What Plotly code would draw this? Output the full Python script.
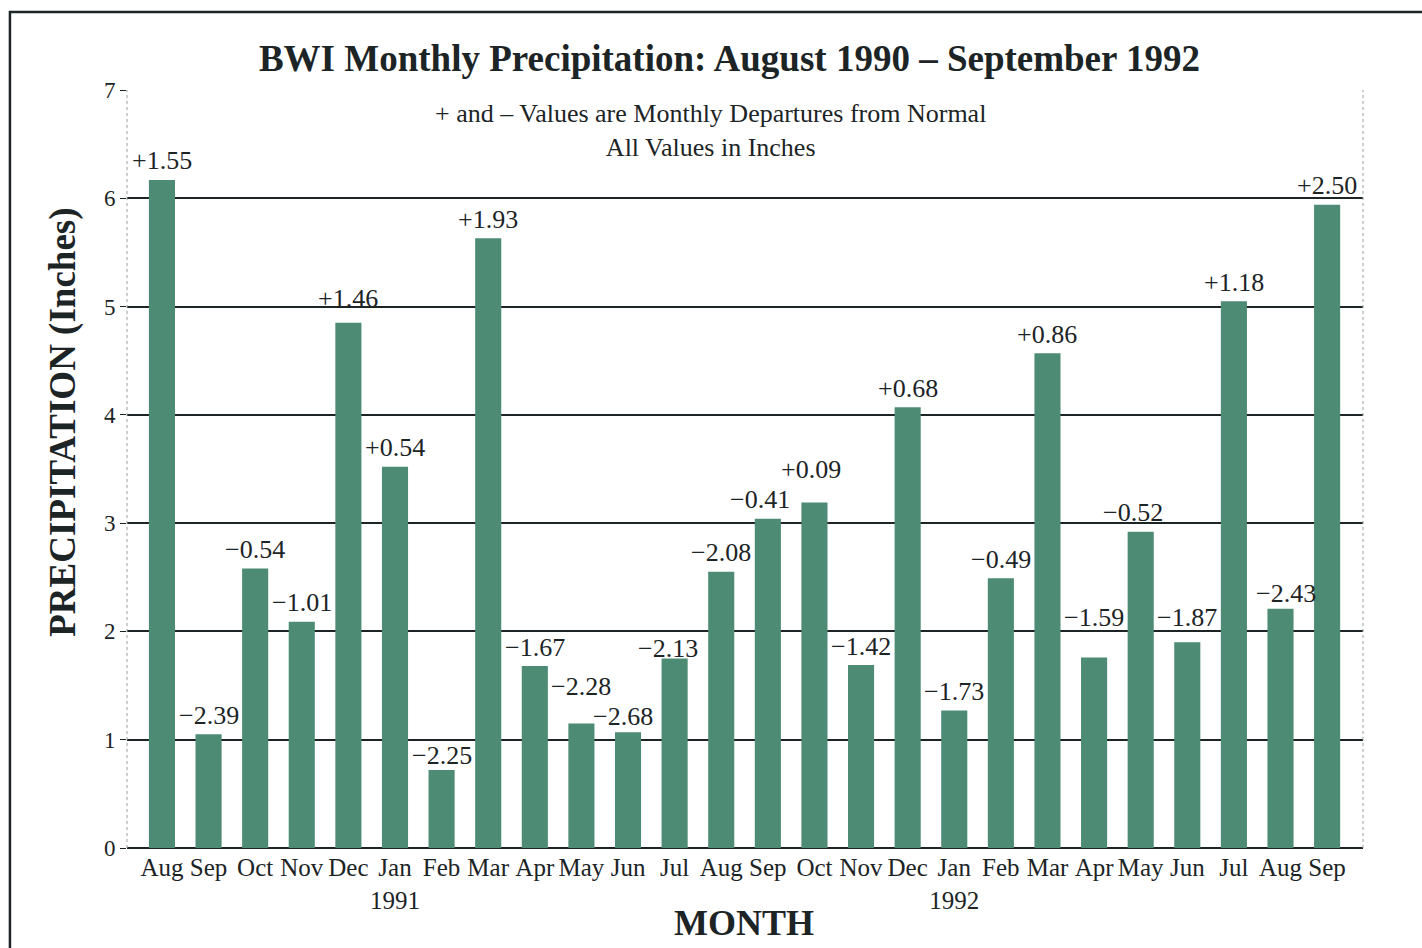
import plotly.graph_objects as go

months = ["Aug", "Sep", "Oct", "Nov", "Dec", "Jan", "Feb", "Mar", "Apr", "May", "Jun", "Jul", "Aug",
          "Sep", "Oct", "Nov", "Dec", "Jan", "Feb", "Mar", "Apr", "May", "Jun", "Jul", "Aug", "Sep"]
years = ["", "", "", "", "", "1991", "", "", "", "", "", "", "",
         "", "", "", "", "1992", "", "", "", "", "", "", "", ""]
precip = [6.17, 1.05, 2.58, 2.09, 4.85, 3.52, 0.72, 5.63, 1.68, 1.15, 1.07, 1.75, 2.55,
          3.04, 3.19, 1.69, 4.07, 1.27, 2.49, 4.57, 1.76, 2.92, 1.90, 5.05, 2.21, 5.94]
departures = ["+1.55", "\u22122.39", "\u22120.54", "\u22121.01", "+1.46", "+0.54", "\u22122.25", "+1.93",
              "\u22121.67", "\u22122.28", "\u22122.68", "\u22122.13", "\u22122.08", "\u22120.41", "+0.09",
              "\u22121.42", "+0.68", "\u22121.73", "\u22120.49", "+0.86", "\u22121.59", "\u22120.52",
              "\u22121.87", "+1.18", "\u22122.43", "+2.50"]

xpos = list(range(len(months)))
ticktext = [m if not y else f"{m}<br>{y}" for m, y in zip(months, years)]

FONT = "Liberation Serif"
BAR = "#4d8b74"
INK = "#1c2426"

# label placement tweaks (pixel nudges, as in the original typesetting)
LABEL_LIFT = 19
label_nudge = {4: (0, 5), 6: (0, -4), 9: (0, 18), 10: (-5, -3), 11: (-7, -9), 13: (-8, 0),
               14: (-3, 14), 20: (0, 21), 21: (-8, 0), 22: (0, 6), 24: (5, -4)}

fig = go.Figure()
fig.add_trace(go.Bar(
    x=xpos, y=precip, width=0.56,
    marker=dict(color=BAR, line=dict(width=0)),
    hoverinfo="x+y",
))

for xi, yi, lab in zip(xpos, precip, departures):
    dx, dy = label_nudge.get(xi, (0, 0))
    fig.add_annotation(x=xi, y=yi, text=lab, showarrow=False, xanchor="center", yanchor="middle",
                       xshift=dx, yshift=LABEL_LIFT + dy,
                       font=dict(family=FONT, size=26, color=INK))

fig.update_layout(
    width=1422, height=948,
    paper_bgcolor="white", plot_bgcolor="white",
    margin=dict(l=127, r=59, t=90, b=100, autoexpand=False),
    font=dict(family=FONT, color=INK),
    showlegend=False,
    title=dict(text="<b>BWI Monthly Precipitation: August 1990 \u2013 September 1992</b>",
               x=0.513, xanchor="center", y=0.939, yanchor="middle",
               font=dict(family=FONT, size=37, color=INK)),
    xaxis=dict(
        tickmode="array", tickvals=xpos, ticktext=ticktext, tickangle=0,
        range=[-0.75, 25.77], showgrid=False, zeroline=False,
        showline=False, ticks="", ticklabelstandoff=2,
        tickfont=dict(family=FONT, size=25, color=INK),
        automargin=False,
    ),
    yaxis=dict(
        range=[0, 7], tickvals=[0, 1, 2, 3, 4, 5, 6, 7],
        showgrid=True, gridcolor=INK, gridwidth=1.5,
        zeroline=True, zerolinecolor=INK, zerolinewidth=1.5,
        ticks="outside", ticklen=6, tickcolor=INK,
        tickfont=dict(family=FONT, size=23, color=INK),
        automargin=False,
    ),
)

# axis titles placed like the original
fig.add_annotation(
    xref="paper", yref="paper", x=-0.052, y=0.562, xanchor="center", yanchor="middle",
    text="<b>PRECIPITATION (Inches)</b>", textangle=-90, showarrow=False,
    font=dict(family=FONT, size=37, color=INK),
)
fig.add_annotation(
    xref="paper", yref="paper", x=0.499, y=-0.099, xanchor="center", yanchor="middle",
    text="<b>MONTH</b>", showarrow=False,
    font=dict(family=FONT, size=36, color=INK),
)

# dotted side boundaries of the plot area
fig.add_shape(type="line", xref="paper", yref="paper", x0=0, x1=0, y0=0, y1=1,
              line=dict(color="#9aa0a0", width=1, dash="dot"))
fig.add_shape(type="line", xref="paper", yref="paper", x0=1, x1=1, y0=0, y1=1,
              line=dict(color="#9aa0a0", width=1, dash="dot"))

# outer frame
fig.add_shape(type="rect", xref="paper", yref="paper", x0=-0.0947, x1=1.2, y0=-0.3, y1=1.103,
              line=dict(color=INK, width=2.5), layer="below")

fig.add_annotation(
    xref="paper", yref="paper", x=0.472, y=0.946, xanchor="center", yanchor="middle",
    text="+ and \u2013 Values are Monthly Departures from Normal<br>All Values in Inches",
    showarrow=False, font=dict(family=FONT, size=26, color=INK), align="center",
)

fig.write_html("out.html", config={"displayModeBar": False})

# remove default page margin so the figure sits at the window origin
with open("out.html", "r", encoding="utf-8") as f:
    html = f.read()
html = html.replace("<head>", "<head><style>html,body{margin:0;padding:0;overflow:hidden;}</style>", 1)
with open("out.html", "w", encoding="utf-8") as f:
    f.write(html)
